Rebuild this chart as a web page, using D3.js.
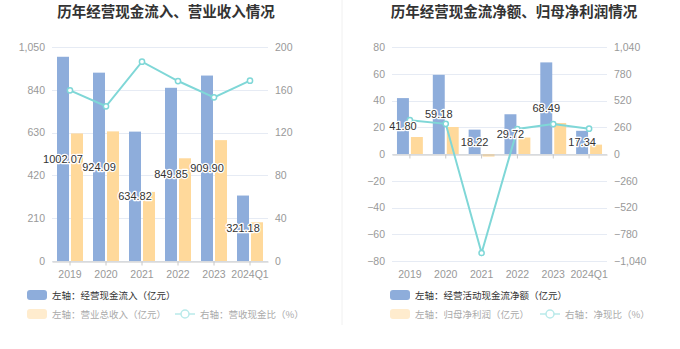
<!DOCTYPE html>
<html>
<head>
<meta charset="utf-8">
<script src="https://cdn.jsdelivr.net/npm/d3@7"></script>
<style>
  html, body { margin: 0; padding: 0; background: #fff; }
  svg { display: block; font-family: "Liberation Sans", Arial, "Noto Sans CJK SC", sans-serif; }
</style>
</head>
<body>
<svg id="chart" width="680" height="349"></svg>
<script>
// ---- data ----
const categories = ["2019", "2020", "2021", "2022", "2023", "2024Q1"];

// left panel
const cashInflow = [1002.07, 924.09, 634.82, 849.85, 909.90, 321.18];   // 经营现金流入（亿元）
const revenue = [626, 636, 339, 504, 593, 190];                          // 营业总收入（亿元）
const cashRevenueRatio = [159.5, 144.6, 186.3, 168.2, 153.0, 168.5];     // 营收现金比（%）
const leftTicksA = [0, 210, 420, 630, 840, 1050];
const rightTicksA = [0, 40, 80, 120, 160, 200];

// right panel
const netCashFlow = [41.80, 59.18, 18.22, 29.72, 68.49, 17.34];         // 经营活动现金流净额（亿元）
const netProfit = [12.7, 20.2, -1.9, 12.3, 23.2, 7.0];                   // 归母净利润（亿元）
const netCashRatio = [329, 293, -962, 243, 291, 246];                    // 净现比（%）
const leftTicksB = [-80, -60, -40, -20, 0, 20, 40, 60, 80];
const rightTicksB = [-1040, -780, -520, -260, 0, 260, 520, 780, 1040];

const titles = ["历年经营现金流入、营业收入情况", "历年经营现金流净额、归母净利润情况"];
const legendA = ["左轴：经营现金流入（亿元）", "左轴：营业总收入（亿元）", "右轴：营收现金比（%）"];
const legendB = ["左轴：经营活动现金流净额（亿元）", "左轴：归母净利润（亿元）", "右轴：净现比（%）"];

// ---- style ----
const BLUE = "#8eaddb", ORANGE = "#ffd99b", TEAL = "#7fd7d7";
const GRID = "#e6ebf4", AXIS = "#c8c8c8", LABEL = "#999";
const fmt = d3.format(",");

const svg = d3.select("#chart");

// divider
svg.append("line").attr("x1", 342).attr("x2", 342).attr("y1", 0).attr("y2", 325)
  .attr("stroke", "#f0f0f0").attr("stroke-width", 1);

function panel(opt) {
  const g = svg.append("g");
  const x = d3.scaleBand().domain(categories).range([opt.x0, opt.x1]);
  const yL = d3.scaleLinear().domain(opt.leftDomain).range([261, 47]);
  const yR = d3.scaleLinear().domain(opt.rightDomain).range([261, 47]);

  // title
  g.append("text").attr("x", opt.titleX).attr("y", 17)
    .attr("text-anchor", "middle").attr("font-size", 14.5).attr("font-weight", "bold")
    .attr("fill", "#333").attr("font-family", "'Noto Sans CJK SC', sans-serif")
    .text(opt.title);

  // grid lines
  g.append("g").selectAll("line").data(opt.leftTicks).join("line")
    .attr("x1", opt.x0).attr("x2", opt.x1)
    .attr("y1", d => Math.round(yL(d)) + 0.5).attr("y2", d => Math.round(yL(d)) + 0.5)
    .attr("stroke", GRID).attr("stroke-width", 1);

  // left axis
  const axL = d3.axisLeft(yL).tickValues(opt.leftTicks).tickFormat(fmt).tickSize(0).tickPadding(7);
  const gL = g.append("g").attr("transform", `translate(${opt.x0},0)`).call(axL);
  gL.select(".domain").remove();
  gL.selectAll("text").attr("fill", LABEL).attr("font-size", 10.5);

  // right axis
  const axR = d3.axisRight(yR).tickValues(opt.rightTicks).tickFormat(fmt).tickSize(0).tickPadding(7);
  const gR = g.append("g").attr("transform", `translate(${opt.x1},0)`).call(axR);
  gR.select(".domain").remove();
  gR.selectAll("text").attr("fill", LABEL).attr("font-size", 10.5);

  // bars
  const bw = x.bandwidth() / 3;
  const cx = d => x(d) + x.bandwidth() / 2;
  g.append("g").selectAll("rect").data(categories).join("rect")
    .attr("x", d => cx(d) - bw - 1).attr("width", bw)
    .attr("y", (d, i) => Math.min(yL(opt.bars1[i]), yL(0)))
    .attr("height", (d, i) => Math.abs(yL(opt.bars1[i]) - yL(0)))
    .attr("fill", BLUE);
  g.append("g").selectAll("rect").data(categories).join("rect")
    .attr("x", d => cx(d) + 1).attr("width", bw)
    .attr("y", (d, i) => Math.min(yL(opt.bars2[i]), yL(0)))
    .attr("height", (d, i) => Math.max(2, Math.abs(yL(opt.bars2[i]) - yL(0))))
    .attr("fill", ORANGE);

  // x axis at zero
  const axX = d3.axisBottom(x).tickSize(4).tickSizeOuter(0).tickPadding(5);
  const gX = g.append("g").attr("transform", `translate(0,${Math.round(yL(0)) + 0.5})`).call(axX);
  gX.select(".domain").attr("stroke", AXIS);
  gX.selectAll(".tick line").attr("stroke", AXIS);
  gX.selectAll("text").attr("fill", LABEL).attr("font-size", 10.5);
  if (opt.xLabelsAtBottom) {
    gX.selectAll("text").attr("y", 261 - yL(0) + 9);
  }

  // line
  const line = d3.line().x(d => cx(d.c)).y(d => yR(d.v));
  const pts = categories.map((c, i) => ({ c, v: opt.line[i] }));
  g.append("path").datum(pts).attr("d", line)
    .attr("fill", "none").attr("stroke", TEAL).attr("stroke-width", 2);
  g.append("g").selectAll("circle").data(pts).join("circle")
    .attr("cx", d => cx(d.c)).attr("cy", d => yR(d.v)).attr("r", 2.6)
    .attr("fill", "#fff").attr("stroke", TEAL).attr("stroke-width", 1.5);

  // labels (middle of blue bars)
  g.append("g").selectAll("text").data(categories).join("text")
    .attr("x", d => cx(d) - bw / 2 - 1)
    .attr("y", (d, i) => (yL(opt.bars1[i]) + yL(0)) / 2)
    .attr("text-anchor", "middle").attr("dominant-baseline", "central")
    .attr("font-size", 11).attr("fill", "#333")
    .attr("stroke", "#fff").attr("stroke-width", 2.5).attr("paint-order", "stroke")
    .attr("stroke-linejoin", "round")
    .text((d, i) => opt.bars1[i].toFixed(2));

  // legend
  const lg = g.append("g").attr("font-family", "'Noto Sans CJK SC', sans-serif").attr("font-size", 9.5);
  lg.append("rect").attr("x", opt.legX).attr("y", 290).attr("width", 20).attr("height", 10).attr("rx", 3)
    .attr("fill", BLUE);
  lg.append("text").attr("x", opt.legX + 25).attr("y", 295).attr("dominant-baseline", "central")
    .attr("fill", "#333").text(opt.legend[0]);
  lg.append("rect").attr("x", opt.legX).attr("y", 309).attr("width", 20).attr("height", 10).attr("rx", 3)
    .attr("fill", "#ffecce");
  lg.append("text").attr("x", opt.legX + 25).attr("y", 314).attr("dominant-baseline", "central")
    .attr("fill", "#aaa").text(opt.legend[1]);
  lg.append("line").attr("x1", opt.legLineX).attr("x2", opt.legLineX + 20).attr("y1", 314).attr("y2", 314)
    .attr("stroke", "#b9eaea").attr("stroke-width", 1.5);
  lg.append("circle").attr("cx", opt.legLineX + 10).attr("cy", 314).attr("r", 4)
    .attr("fill", "#fff").attr("stroke", "#b9eaea").attr("stroke-width", 1.5);
  lg.append("text").attr("x", opt.legLineX + 25).attr("y", 314).attr("dominant-baseline", "central")
    .attr("fill", "#aaa").text(opt.legend[2]);
}

panel({
  x0: 52, x1: 268, titleX: 166, title: titles[0],
  leftDomain: [0, 1050], rightDomain: [0, 200],
  leftTicks: leftTicksA, rightTicks: rightTicksA,
  bars1: cashInflow, bars2: revenue, line: cashRevenueRatio,
  legend: legendA, legX: 27, legLineX: 175
});

panel({
  x0: 392, x1: 607, titleX: 514, title: titles[1],
  leftDomain: [-80, 80], rightDomain: [-1040, 1040],
  leftTicks: leftTicksB, rightTicks: rightTicksB,
  bars1: netCashFlow, bars2: netProfit, line: netCashRatio,
  legend: legendB, legX: 390, legLineX: 540, xLabelsAtBottom: true
});
</script>
</body>
</html>
